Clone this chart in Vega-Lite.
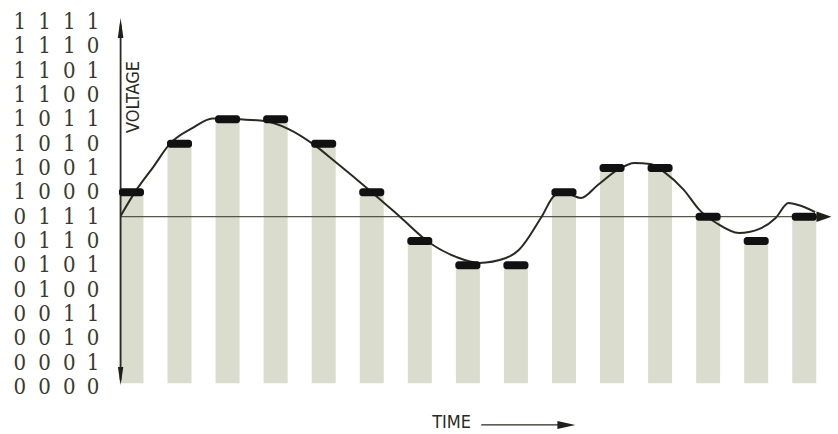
{
  "$schema": "https://vega.github.io/schema/vega-lite/v6.json",
  "width": 838,
  "height": 434,
  "autosize": "none",
  "padding": 0,
  "background": "white",
  "config": {"view": {"stroke": null}},
  "datasets": {
    "bars": [
      {"t": 1, "level": 8}, {"t": 2, "level": 10}, {"t": 3, "level": 11}, {"t": 4, "level": 11},
      {"t": 5, "level": 10}, {"t": 6, "level": 8}, {"t": 7, "level": 6}, {"t": 8, "level": 5},
      {"t": 9, "level": 5}, {"t": 10, "level": 8}, {"t": 11, "level": 9}, {"t": 12, "level": 9},
      {"t": 13, "level": 7}, {"t": 14, "level": 6}, {"t": 15, "level": 7}
    ],
    "curve": [
      {"t": 0.774, "v": 7.03}, {"t": 1.103, "v": 8.10}, {"t": 1.452, "v": 9.04}, {"t": 1.802, "v": 10.0},
      {"t": 2.275, "v": 10.65}, {"t": 2.686, "v": 11.04}, {"t": 3.261, "v": 11.0}, {"t": 3.775, "v": 10.93},
      {"t": 4.269, "v": 10.6}, {"t": 4.803, "v": 9.95}, {"t": 5.215, "v": 9.3}, {"t": 5.976, "v": 8.05},
      {"t": 6.592, "v": 6.99}, {"t": 7.209, "v": 5.92}, {"t": 7.764, "v": 5.34}, {"t": 8.237, "v": 5.10},
      {"t": 8.792, "v": 5.30}, {"t": 9.059, "v": 5.63}, {"t": 9.532, "v": 6.99}, {"t": 9.82, "v": 7.89},
      {"t": 10.025, "v": 7.97}, {"t": 10.354, "v": 7.77}, {"t": 10.704, "v": 8.30}, {"t": 11.115, "v": 8.92},
      {"t": 11.465, "v": 9.21}, {"t": 11.794, "v": 9.17}, {"t": 12.081, "v": 8.84}, {"t": 12.493, "v": 8.10},
      {"t": 12.822, "v": 7.27}, {"t": 13.171, "v": 6.74}, {"t": 13.644, "v": 6.33}, {"t": 14.055, "v": 6.49},
      {"t": 14.405, "v": 6.95}, {"t": 14.672, "v": 7.56}, {"t": 14.877, "v": 7.48}, {"t": 15.227, "v": 7.19}
    ],
    "codes": [
      {"level": 15, "d1": "1", "d2": "1", "d3": "1", "d4": "1"},
      {"level": 14, "d1": "1", "d2": "1", "d3": "1", "d4": "0"},
      {"level": 13, "d1": "1", "d2": "1", "d3": "0", "d4": "1"},
      {"level": 12, "d1": "1", "d2": "1", "d3": "0", "d4": "0"},
      {"level": 11, "d1": "1", "d2": "0", "d3": "1", "d4": "1"},
      {"level": 10, "d1": "1", "d2": "0", "d3": "1", "d4": "0"},
      {"level": 9, "d1": "1", "d2": "0", "d3": "0", "d4": "1"},
      {"level": 8, "d1": "1", "d2": "0", "d3": "0", "d4": "0"},
      {"level": 7, "d1": "0", "d2": "1", "d3": "1", "d4": "1"},
      {"level": 6, "d1": "0", "d2": "1", "d3": "1", "d4": "0"},
      {"level": 5, "d1": "0", "d2": "1", "d3": "0", "d4": "1"},
      {"level": 4, "d1": "0", "d2": "1", "d3": "0", "d4": "0"},
      {"level": 3, "d1": "0", "d2": "0", "d3": "1", "d4": "1"},
      {"level": 2, "d1": "0", "d2": "0", "d3": "1", "d4": "0"},
      {"level": 1, "d1": "0", "d2": "0", "d3": "0", "d4": "1"},
      {"level": 0, "d1": "0", "d2": "0", "d3": "0", "d4": "0"}
    ]
  },
  "layer": [
    {
      "data": {"name": "bars"},
      "mark": {"type": "bar", "width": 24, "color": "#dadccd"},
      "encoding": {
        "x": {"field": "t", "type": "quantitative", "axis": null, "scale": {"domain": [-1.6316, 15.598], "nice": false, "zero": false}},
        "y": {"field": "level", "type": "quantitative", "axis": null, "scale": {"domain": [-1.932, 15.906], "nice": false, "zero": false}},
        "y2": {"datum": 0.15}
      }
    },
    {
      "data": {"values": [{}]},
      "mark": {"type": "rule", "color": "#55554a", "strokeWidth": 1.3},
      "encoding": {
        "x": {"datum": 0.774, "type": "quantitative"},
        "x2": {"datum": 15.45},
        "y": {"datum": 7, "type": "quantitative"}
      }
    },
    {
      "data": {"values": [{}]},
      "mark": {"type": "rule", "color": "#2b2b24", "strokeWidth": 1.8},
      "encoding": {
        "x": {"datum": 0.774, "type": "quantitative"},
        "y": {"datum": 0.3, "type": "quantitative"},
        "y2": {"datum": 14.9}
      }
    },
    {
      "data": {"values": [{}]},
      "mark": {"type": "point", "shape": "M0,-1L-0.28,1L0.28,1Z", "size": 400, "filled": true, "color": "#1f1f1a", "opacity": 1},
      "encoding": {
        "x": {"datum": 0.774, "type": "quantitative"},
        "y": {"datum": 14.76, "type": "quantitative"}
      }
    },
    {
      "data": {"values": [{}]},
      "mark": {"type": "point", "shape": "M0,1L-0.3,-1L0.3,-1Z", "size": 324, "filled": true, "color": "#1f1f1a", "opacity": 1},
      "encoding": {
        "x": {"datum": 0.774, "type": "quantitative"},
        "y": {"datum": 0.45, "type": "quantitative"}
      }
    },
    {
      "data": {"values": [{}]},
      "mark": {"type": "point", "shape": "M1,0L-1,-0.7L-1,0.7Z", "size": 225, "filled": true, "color": "#1f1f1a", "opacity": 1},
      "encoding": {
        "x": {"datum": 15.41, "type": "quantitative"},
        "y": {"datum": 7, "type": "quantitative"}
      }
    },
    {
      "data": {"name": "curve"},
      "mark": {"type": "line", "interpolate": "monotone", "color": "#2a2a23", "strokeWidth": 2},
      "encoding": {
        "x": {"field": "t", "type": "quantitative"},
        "y": {"field": "v", "type": "quantitative"}
      }
    },
    {
      "data": {"name": "bars"},
      "mark": {"type": "tick", "orient": "horizontal", "size": 25, "thickness": 8, "color": "#111111", "cornerRadius": 3, "opacity": 1},
      "encoding": {
        "x": {"field": "t", "type": "quantitative"},
        "y": {"field": "level", "type": "quantitative"}
      }
    },
    {
      "data": {"name": "codes"},
      "mark": {"type": "text", "font": "DejaVu Serif Condensed", "fontSize": 22, "color": "#3a3a30", "align": "center", "baseline": "middle"},
      "encoding": {
        "x": {"datum": -1.323, "type": "quantitative"},
        "y": {"field": "level", "type": "quantitative"},
        "text": {"field": "d1"}
      }
    },
    {
      "data": {"name": "codes"},
      "mark": {"type": "text", "font": "DejaVu Serif Condensed", "fontSize": 22, "color": "#3a3a30", "align": "center", "baseline": "middle"},
      "encoding": {
        "x": {"datum": -0.809, "type": "quantitative"},
        "y": {"field": "level", "type": "quantitative"},
        "text": {"field": "d2"}
      }
    },
    {
      "data": {"name": "codes"},
      "mark": {"type": "text", "font": "DejaVu Serif Condensed", "fontSize": 22, "color": "#3a3a30", "align": "center", "baseline": "middle"},
      "encoding": {
        "x": {"datum": -0.295, "type": "quantitative"},
        "y": {"field": "level", "type": "quantitative"},
        "text": {"field": "d3"}
      }
    },
    {
      "data": {"name": "codes"},
      "mark": {"type": "text", "font": "DejaVu Serif Condensed", "fontSize": 22, "color": "#3a3a30", "align": "center", "baseline": "middle"},
      "encoding": {
        "x": {"datum": 0.198, "type": "quantitative"},
        "y": {"field": "level", "type": "quantitative"},
        "text": {"field": "d4"}
      }
    },
    {
      "data": {"values": [{"label": "VOLTAGE"}]},
      "mark": {"type": "text", "font": "DejaVu Sans Condensed", "fontSize": 18, "color": "#2a2a22", "angle": 270, "align": "center", "baseline": "middle"},
      "encoding": {
        "x": {"datum": 1.06, "type": "quantitative"},
        "y": {"datum": 11.92, "type": "quantitative"},
        "text": {"field": "label"}
      }
    },
    {
      "data": {"values": [{"label": "TIME"}]},
      "mark": {"type": "text", "font": "DejaVu Sans Condensed", "fontSize": 18, "color": "#2a2a22", "align": "center", "baseline": "middle"},
      "encoding": {
        "x": {"datum": 7.661, "type": "quantitative"},
        "y": {"datum": -1.5, "type": "quantitative"},
        "text": {"field": "label"}
      }
    },
    {
      "data": {"values": [{}]},
      "mark": {"type": "rule", "color": "#2a2a22", "strokeWidth": 1.2},
      "encoding": {
        "x": {"datum": 8.278, "type": "quantitative"},
        "x2": {"datum": 10.0},
        "y": {"datum": -1.56, "type": "quantitative"}
      }
    },
    {
      "data": {"values": [{}]},
      "mark": {"type": "point", "shape": "M1,0L-1,-0.45L-1,0.45Z", "size": 324, "filled": true, "color": "#1f1f1a", "opacity": 1},
      "encoding": {
        "x": {"datum": 10.05, "type": "quantitative"},
        "y": {"datum": -1.56, "type": "quantitative"}
      }
    }
  ]
}
